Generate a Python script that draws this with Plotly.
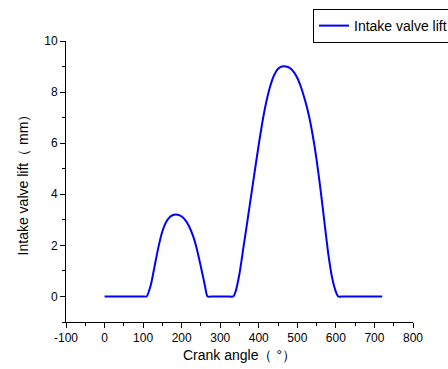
import plotly.graph_objects as go

crank_angle = [0, 10, 20, 30, 40, 50, 60, 70, 80, 90, 100, 109,
               120, 130, 140, 150, 160, 170, 180, 190, 200, 210, 220, 230, 240, 250, 260, 267,
               280, 290, 300, 310, 320, 334,
               340, 350, 360, 370, 380, 390, 400, 410, 420, 430, 440, 450, 460, 470,
               480, 490, 500, 510, 520, 530, 540, 550, 560, 570, 580, 590, 600, 606,
               620, 640, 660, 680, 700, 720]
valve_lift = [0, 0, 0, 0, 0, 0, 0, 0, 0, 0, 0, 0,
              0.45, 1.2, 1.95, 2.55, 2.92, 3.12, 3.2, 3.2, 3.13, 2.98, 2.72, 2.35, 1.82, 1.15, 0.45, 0,
              0, 0, 0, 0, 0, 0,
              0.2, 0.9, 1.9, 2.9, 3.93, 4.95, 5.95, 6.88, 7.65, 8.25, 8.67, 8.91, 9.0, 9.0,
              8.95, 8.8, 8.55, 8.17, 7.68, 7.08, 6.3, 5.35, 4.2, 2.95, 1.7, 0.75, 0.18, 0,
              0, 0, 0, 0, 0, 0]

x_ticks = [-100, 0, 100, 200, 300, 400, 500, 600, 700, 800]
x_tick_labels = ["-100", "0", "100", "200", "300", "400", "500", "600", "700", "800"]
y_ticks = [0, 2, 4, 6, 8, 10]

fig = go.Figure()
fig.add_trace(go.Scatter(x=crank_angle, y=valve_lift, mode="lines",
                         line=dict(color="#0000FF", width=2, shape="spline", smoothing=0.6),
                         name="Intake valve lift"))

font = "Liberation Sans, Arial, sans-serif"
fig.update_layout(
    width=448, height=369,
    margin=dict(l=66, r=35, t=41, b=47, autoexpand=False),
    paper_bgcolor="white", plot_bgcolor="white",
    font=dict(family=font, size=12, color="black"),
    showlegend=True,
    legend=dict(x=313/448, y=1 - 9/369, xref="container", yref="container",
                xanchor="left", yanchor="top",
                bordercolor="black", borderwidth=1, bgcolor="white",
                font=dict(size=14), tracegroupgap=0,
                itemwidth=30),
    xaxis=dict(range=[-100, 800], tickvals=x_ticks, ticktext=x_tick_labels,
               ticks="outside", ticklen=5,
               tickcolor="black", showline=True, linecolor="black", linewidth=1,
               showgrid=False, zeroline=False,
               minor=dict(dtick=50, tick0=-100, ticks="outside", ticklen=3, tickcolor="black"),
               title=dict(text="Crank angle（ °）", font=dict(size=14), standoff=5)),
    yaxis=dict(range=[-1, 10], tickvals=y_ticks, ticks="outside", ticklen=5,
               tickcolor="black", showline=True, linecolor="black", linewidth=1,
               showgrid=False, zeroline=False,
               minor=dict(dtick=1, tick0=-1, ticks="outside", ticklen=3, tickcolor="black"),
               title=dict(text="Intake valve lift（ mm）", font=dict(size=14), standoff=12)),
)
fig.write_html("out.html")
